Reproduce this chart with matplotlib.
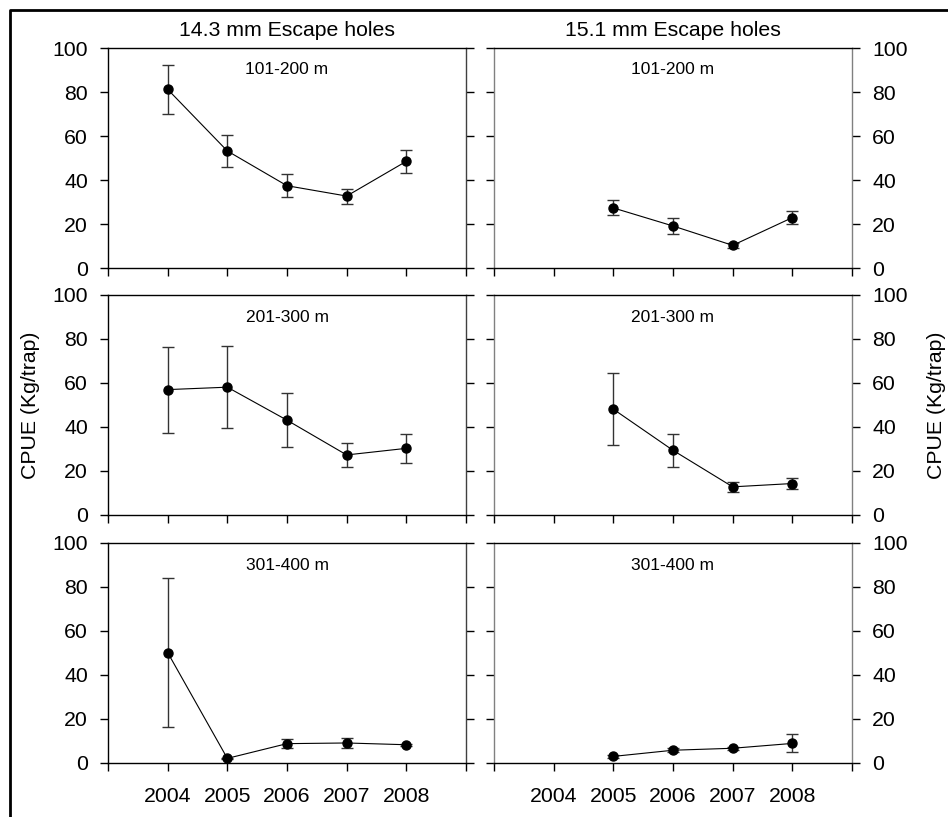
import numpy as np
import matplotlib.pyplot as plt
from matplotlib.lines import Line2D

plt.rcParams['font.family'] = ['Liberation Sans', 'DejaVu Sans']

years = np.array([2004, 2005, 2006, 2007, 2008])
depths = ['101-200 m', '201-300 m', '301-400 m']
columns = ['14.3 mm Escape holes', '15.1 mm Escape holes']

# 14.3 mm escape holes (CPUE, kg/trap) and error
cpue_143 = [
    [81.2, 53.2, 37.4, 32.7, 48.5],
    [57.0, 58.1, 43.1, 27.3, 30.3],
    [50.2, 2.1, 8.8, 9.1, 8.3],
]
err_143 = [
    [11.0, 7.2, 5.2, 3.4, 5.1],
    [19.5, 18.7, 12.3, 5.5, 6.5],
    [34.0, 0.4, 1.9, 2.3, 0.5],
]

# 15.1 mm escape holes, no 2004 data
cpue_151 = [
    [np.nan, 27.3, 19.1, 10.3, 22.9],
    [np.nan, 48.1, 29.4, 12.8, 14.3],
    [np.nan, 3.0, 5.8, 6.7, 8.9],
]
err_151 = [
    [np.nan, 3.4, 3.7, 1.0, 2.8],
    [np.nan, 16.3, 7.4, 2.4, 2.6],
    [np.nan, 0.5, 0.8, 0.8, 4.1],
]

W, H = 948, 817
fig = plt.figure(figsize=(W / 100, H / 100), dpi=100)

col_x = [108, 494]
col_w = 358
row_top = [48, 295, 543]
row_h = 220

data = [(cpue_143, err_143), (cpue_151, err_151)]

for c in range(2):
    vals, errs = data[c]
    for r in range(3):
        ax = fig.add_axes([col_x[c] / W, 1 - (row_top[r] + row_h) / H,
                           col_w / W, row_h / H])
        y = np.array(vals[r])
        e = np.array(errs[r])
        m = ~np.isnan(y)
        ax.errorbar(years[m], y[m], yerr=e[m], fmt='o-', color='black',
                    ms=6.5, lw=0.8, ecolor='#333333', elinewidth=1.0,
                    capsize=4, capthick=1.0)
        ax.set_xlim(2003, 2009)
        ax.set_ylim(0, 100)
        ax.set_xticks(np.arange(2003, 2010))
        ax.set_yticks([0, 20, 40, 60, 80, 100])
        if r == 2:
            ax.set_xticklabels([''] + [str(v) for v in years] + [''])
        else:
            ax.set_xticklabels([])
        ax.tick_params(axis='x', direction='out', length=6, width=1,
                       labelsize=15.3, pad=11)
        ax.tick_params(axis='y', direction='out', length=6, width=1,
                       labelsize=15.3, left=True, right=True,
                       labelleft=(c == 0), labelright=(c == 1), pad=8.5)
        for s in ax.spines.values():
            s.set_linewidth(1.0)
        if c == 1:
            ax.spines['left'].set_color('#808080')
            ax.spines['right'].set_color('#808080')
        else:
            ax.spines['right'].set_color('#404040')
        ax.text(0.5, 0.9, depths[r], transform=ax.transAxes, ha='center',
                va='center', fontsize=12.5)
        if r == 0:
            ax.text(0.5, 1.08, columns[c], transform=ax.transAxes,
                    ha='center', va='center', fontsize=15.3)

fig.text(30 / W, 1 - 405 / H, 'CPUE (Kg/trap)', rotation=90,
         ha='center', va='center', fontsize=15.3)
fig.text(937 / W, 1 - 405 / H, 'CPUE (Kg/trap)', rotation=90,
         ha='center', va='center', fontsize=15.3)

# frame lines along left and top edges
fig.add_artist(Line2D([9.5 / W, 9.5 / W, 1], [0, 1 - 9.5 / H, 1 - 9.5 / H],
                      transform=fig.transFigure, color='black', lw=2))

fig.savefig('out.png', dpi=100)
